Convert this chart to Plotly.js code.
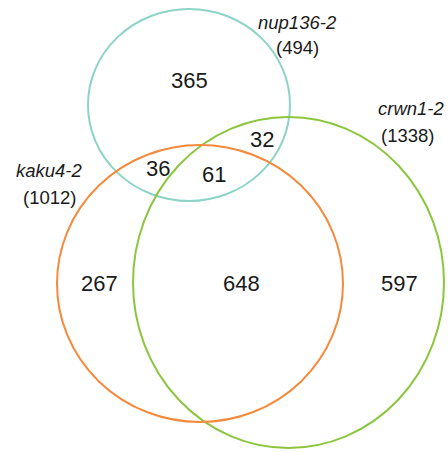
<!DOCTYPE html>
<html>
<head>
<meta charset="utf-8">
<script src="https://cdn.plot.ly/plotly-3.0.1.min.js"></script>
<style>html,body{margin:0;padding:0;background:#fff}#chart{width:448px;height:452px}</style>
</head>
<body>
<div id="chart"></div>
<script>
// Data
const setNames = ["nup136-2", "crwn1-2", "kaku4-2"];
const setTotals = [494, 1338, 1012];
const regionNames = ["nup only", "nup&crwn", "nup&kaku", "all three", "kaku only", "kaku&crwn", "crwn only"];
const regionCounts = [365, 32, 36, 61, 267, 648, 597];

// Layout geometry (pixel space)
const circleGeom = [
  {x0: 88, x1: 290, y0: 9, y1: 201, color: "#8dd3c7"},
  {x0: 133, x1: 444, y0: 117, y1: 448, color: "#8cc63f"},
  {x0: 57, x1: 343, y0: 145, y1: 422, color: "#f58a3c"}
];
const labelPos = [
  {x: 297, y: 22, tx: 297, ty: 47},
  {x: 411, y: 108, tx: 407, ty: 135},
  {x: 49, y: 170, tx: 49, ty: 197}
];
const regionPos = [
  [189, 80], [262, 139], [158, 168], [214, 174], [99, 283], [241, 283], [399, 283]
];

const shapes = circleGeom.map(c => ({
  type: "circle", xref: "x", yref: "y",
  x0: c.x0, x1: c.x1, y0: c.y0, y1: c.y1,
  line: {color: c.color, width: 2}, fillcolor: "rgba(0,0,0,0)"
}));

const annotations = [];
regionCounts.forEach((v, i) => {
  annotations.push({
    x: regionPos[i][0], y: regionPos[i][1], xref: "x", yref: "y",
    text: String(v), showarrow: false,
    font: {family: "Liberation Sans, Arial, sans-serif", size: 22, color: "#1a1a1a"}
  });
});
setNames.forEach((n, i) => {
  annotations.push({
    x: labelPos[i].x, y: labelPos[i].y, xref: "x", yref: "y",
    text: "<i>" + n + "</i>", showarrow: false,
    font: {family: "Liberation Sans, Arial, sans-serif", size: 18.5, color: "#1a1a1a"}
  });
  annotations.push({
    x: labelPos[i].tx, y: labelPos[i].ty, xref: "x", yref: "y",
    text: "(" + setTotals[i] + ")", showarrow: false,
    font: {family: "Liberation Sans, Arial, sans-serif", size: 18.5, color: "#1a1a1a"}
  });
});

Plotly.newPlot("chart", [{x: [], y: [], type: "scatter", mode: "markers", hoverinfo: "skip"}], {
  width: 448, height: 452,
  margin: {l: 0, r: 0, t: 0, b: 0},
  paper_bgcolor: "#fff", plot_bgcolor: "#fff",
  xaxis: {range: [0, 448], visible: false, fixedrange: true},
  yaxis: {range: [452, 0], visible: false, fixedrange: true},
  showlegend: false,
  shapes: shapes,
  annotations: annotations
}, {staticPlot: true});
</script>
</body>
</html>
